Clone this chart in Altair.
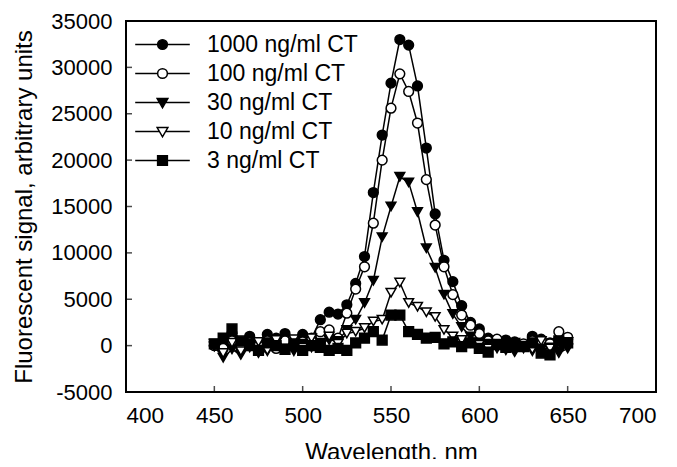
import altair as alt
import pandas as pd

wavelength = [450, 455, 460, 465, 470, 475, 480, 485, 490, 495, 500, 505, 510, 515, 520,
              525, 530, 535, 540, 545, 550, 555, 560, 565, 570, 575, 580, 585, 590, 595,
              600, 605, 610, 615, 620, 625, 630, 635, 640, 645, 650]

series_names = ["1000 ng/ml CT", "100 ng/ml CT", "30 ng/ml CT", "10 ng/ml CT", "3 ng/ml CT"]

ct_1000 = [0, 500, 1300, 300, 1000, -300, 1200, 800, 1300, 300, 1200, 800, 2800, 3600, 3400,
           4400, 6700, 9600, 16500, 22700, 28300, 33000, 32400, 28000, 21300, 14200, 9200, 6900, 4300, 2500,
           1800, 800, 200, 600, 400, 0, 1000, 700, 300, 100, 700]
ct_100 = [0, -300, 500, -200, 300, 0, 500, -300, 500, -100, 400, 600, 1500, 1700, 800,
          3500, 6100, 8500, 13200, 20000, 25600, 29300, 27400, 24000, 17900, 13000, 8500, 5500, 3300, 2200,
          1300, 500, 700, -200, 300, 200, 500, 600, 200, 1500, 900]
ct_30 = [-100, -1300, -400, -1000, 200, -800, -600, 300, -400, -600, 200, -200, 300, 600, 500,
         1700, 2800, 4600, 7000, 11700, 15000, 18200, 17600, 14400, 10500, 8400, 5500, 3400, 2000, 1000,
         300, 200, -300, -500, -700, -300, -600, -400, -200, -800, -300]
ct_10 = [200, -800, 300, -600, -200, 400, -500, 600, -300, 700, -200, 800, 0, 1000, 200,
         1300, 1500, 1900, 2600, 2800, 5700, 6800, 4600, 4200, 3600, 3100, 1700, 1000, 600, 300,
         100, -300, 200, -100, 300, 0, -400, 500, -300, 200, 400]
ct_3 = [200, 800, 1800, 500, 0, -500, 300, 0, -400, 200, -500, 0, -200, -500, -300,
        -500, 300, 800, 1500, 600, 3300, 3300, 1500, 1200, 800, 900, 200, 400, -100, 300,
        -300, -700, 100, -200, 200, -100, 300, -800, -1000, 500, 300]

x_ticks = [400, 450, 500, 550, 600, 650, 700]
y_ticks = [-5000, 0, 5000, 10000, 15000, 20000, 25000, 30000, 35000]

point_shapes = ["circle", "circle", "triangle-down", "triangle-down", "square"]
point_fills = ["black", "white", "black", "white", "black"]
legend_shapes = [
    "M-5.6,0H-1M1,0H5.6M-1,0A1,1,0,1,1,1,0A1,1,0,1,1,-1,0Z",
    "M-5.6,0H-1M1,0H5.6M-1,0A1,1,0,1,1,1,0A1,1,0,1,1,-1,0Z",
    "M-5.6,0H-0.64M0.64,0H5.6M-1.1,-0.8H1.1L0,1.1Z",
    "M-5.6,0H-0.64M0.64,0H5.6M-1.1,-0.8H1.1L0,1.1Z",
    "M-5.6,0H-1M1,0H5.6M-1,-1H1V1H-1Z",
]

rows = []
for name, vals in zip(series_names, [ct_1000, ct_100, ct_30, ct_10, ct_3]):
    for w, v in zip(wavelength, vals):
        rows.append({"wl": w, "signal": v, "series": name})
df = pd.DataFrame(rows)

FONT = "Liberation Sans"

x_enc = alt.X("wl:Q", scale=alt.Scale(domain=[400, 700], nice=False),
              axis=alt.Axis(values=x_ticks, title="Wavelength, nm", ticks=False, domain=False,
                            grid=False, labelPadding=12, titlePadding=14, format="d",
                            labelFontSize=22.5))
y_enc = alt.Y("signal:Q", scale=alt.Scale(domain=[-5000, 35000], nice=False),
              axis=alt.Axis(values=y_ticks, title="Fluorescent signal, arbitrary units", ticks=False,
                            domain=False, grid=False, labelPadding=14, titlePadding=14,
                            labelFontSize=22, labelExpr="'' + datum.value"))

base = alt.Chart(df)

lines = base.mark_line(color="black", strokeWidth=1.5).encode(
    x=x_enc, y=y_enc, detail="series:N", order="wl:Q")

point_layers = []
for name, shp, fc in zip(series_names, point_shapes, point_fills):
    point_layers.append(
        base.transform_filter(alt.datum.series == name).mark_point(
            shape=shp, fill=fc, fillOpacity=1, stroke="black", strokeWidth=1.5, size=95, opacity=1
        ).encode(x="wl:Q", y="signal:Q")
    )

leg = alt.Legend(title=None, orient="none", legendX=25, legendY=12, symbolSize=95,
                 symbolStrokeWidth=1.5, labelOffset=33,
                 labelFontSize=23, labelFont=FONT, labelColor="black", rowPadding=5,
                 labelLimit=300, symbolOpacity=1)

legend_layer = base.mark_point(filled=False, strokeWidth=1.5, size=95, opacity=1).encode(
    x="wl:Q", y="signal:Q",
    shape=alt.Shape("series:N", scale=alt.Scale(domain=series_names, range=legend_shapes), legend=leg),
    fill=alt.Fill("series:N", scale=alt.Scale(domain=series_names, range=point_fills), legend=leg),
    stroke=alt.Stroke("series:N", scale=alt.Scale(domain=series_names, range=["black"] * 5), legend=leg),
).transform_filter("datum.wl < 0")

xtick_df = pd.DataFrame({"v": x_ticks})
ytick_df = pd.DataFrame({"v": y_ticks})
xt = alt.Chart(xtick_df).mark_tick(orient="vertical", size=6, thickness=1.5, color="black", yOffset=-3).encode(
    x="v:Q", y=alt.datum(-5000))
yt = alt.Chart(ytick_df).mark_tick(orient="horizontal", size=6, thickness=1.5, color="black", xOffset=3).encode(
    y="v:Q", x=alt.datum(400))

chart = alt.layer(lines, *point_layers, legend_layer, xt, yt).properties(
    width=530, height=371,
    autosize=alt.AutoSizeParams(type="none"),
    padding={"left": 118, "top": 13, "right": 13, "bottom": 67},
).configure_view(
    stroke="black", strokeWidth=2
).configure_axis(
    labelFont=FONT, titleFont=FONT, titleFontSize=24,
    labelColor="black", titleColor="black", titleFontWeight="normal"
)

chart.save("out.html", embed_options={"renderer": "svg", "actions": False})
